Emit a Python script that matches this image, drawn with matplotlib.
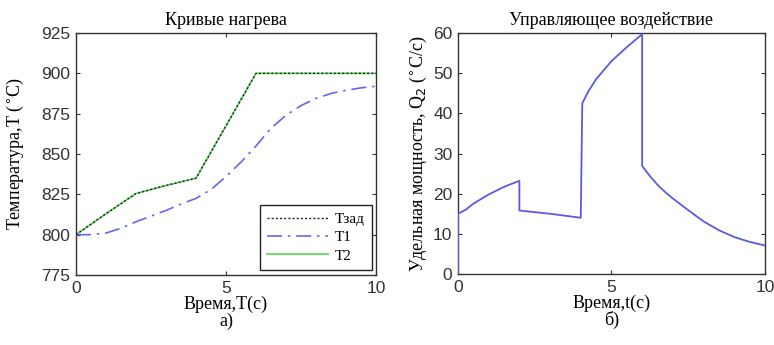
import matplotlib
matplotlib.use("Agg")
import matplotlib.pyplot as plt

# --- data ---
t_zad = [0, 1, 2, 3, 4, 6, 10]
T_zad = [800, 813, 825.5, 830.5, 835, 900, 900]

t_T1 = [0, 0.5, 1, 1.5, 2, 2.5, 3, 3.5, 4, 4.5, 5, 5.5, 6, 6.5, 7, 7.5, 8, 8.5, 9, 9.5, 10]
T1 = [800, 800, 801, 804, 808, 811.5, 815, 819, 822.5, 828, 836, 845, 855, 866, 874, 880, 884.5, 887.5, 889.5, 891, 892]

t_T2 = [0, 1, 2, 3, 4, 6, 10]
T2 = [800, 813, 825.5, 830.5, 835, 900, 900]

t_Q = [0, 0, 0.25, 0.5, 1, 1.5, 2, 2, 3, 4, 4.05, 4.25, 4.5, 5, 5.5, 6, 6,
       6.25, 6.5, 6.75, 7, 7.5, 8, 8.5, 9, 9.5, 10]
Q = [0, 15, 16, 17.5, 19.8, 21.7, 23.2, 15.8, 15, 14, 42.5, 45.5, 48.5, 53, 56.5, 59.7, 26.9,
     24.4, 22.2, 20.4, 18.8, 15.9, 13.1, 10.9, 9.2, 8.0, 7.1]

left_yticks = [775, 800, 825, 850, 875, 900, 925]
right_yticks = [0, 10, 20, 30, 40, 50, 60]
xticks = [0, 5, 10]

serif = ['Liberation Serif', 'DejaVu Serif']
sans = ['Liberation Sans', 'DejaVu Sans']

fig = plt.figure(figsize=(7.74, 3.45), dpi=100)
ax1 = fig.add_axes([0.0982, 0.2029, 0.3876, 0.7014])
ax2 = fig.add_axes([0.5917, 0.2058, 0.3966, 0.6985])

ax1.plot(t_T2, T2, color='#66dd66', lw=1.3, label='T2', zorder=2)
ax1.plot(t_T1, T1, color='#6666ee', lw=1.2, dashes=(9, 3.5, 1.5, 3.5), label='T1', zorder=3)
ax1.plot(t_zad, T_zad, color='#222222', lw=1.0, ls=(0, (1.5, 1.5)), label='Tзад', zorder=4)

ax1.set_xlim(0, 10)
ax1.set_ylim(775, 925)
ax1.set_yticks(left_yticks)
ax1.set_xticks(xticks)

handles, labels = ax1.get_legend_handles_labels()
order = [2, 1, 0]
leg = ax1.legend([handles[i] for i in order], [labels[i] for i in order],
                 loc='lower right', bbox_to_anchor=(0.987, 0.02), borderaxespad=0,
                 fancybox=False, edgecolor='#222222', framealpha=1,
                 prop={'family': serif, 'size': 11},
                 handlelength=4.0, handletextpad=0.4, borderpad=0.5, labelspacing=0.3)
leg.get_frame().set_linewidth(1.0)

ax1.set_title('Кривые нагрева', family=serif, fontsize=13, pad=6)
ax1.set_ylabel('Температура,T ($^{\\circ}$C)', family=serif, fontsize=13, labelpad=11)
ax1.set_xlabel('Время,T(c)\nа)', family=serif, fontsize=13, linespacing=0.95, labelpad=0)

ax2.plot(t_Q, Q, color='#5a5ae0', lw=1.3, zorder=3)
ax2.set_xlim(0, 10)
ax2.set_ylim(0, 60)
ax2.set_yticks(right_yticks)
ax2.set_xticks(xticks)
ax2.set_title('Управляющее воздействие', family=serif, fontsize=13, pad=6)
ax2.set_ylabel('Удельная мощность, Q$_2$ ($^{\\circ}$C/c)', family=serif, fontsize=13, labelpad=3)
ax2.set_xlabel('Время,t(c)\nб)', family=serif, fontsize=13, linespacing=0.95, labelpad=0)

for ax in (ax1, ax2):
    ax.tick_params(direction='in', top=True, right=True, length=3, width=0.8,
                   labelsize=12.5, colors='#333333', pad=4)
    for lab in ax.get_xticklabels() + ax.get_yticklabels():
        lab.set_family(sans)
    for s in ax.spines.values():
        s.set_color('#333333')
        s.set_linewidth(1.0)

fig.savefig('out.png', dpi=100)
